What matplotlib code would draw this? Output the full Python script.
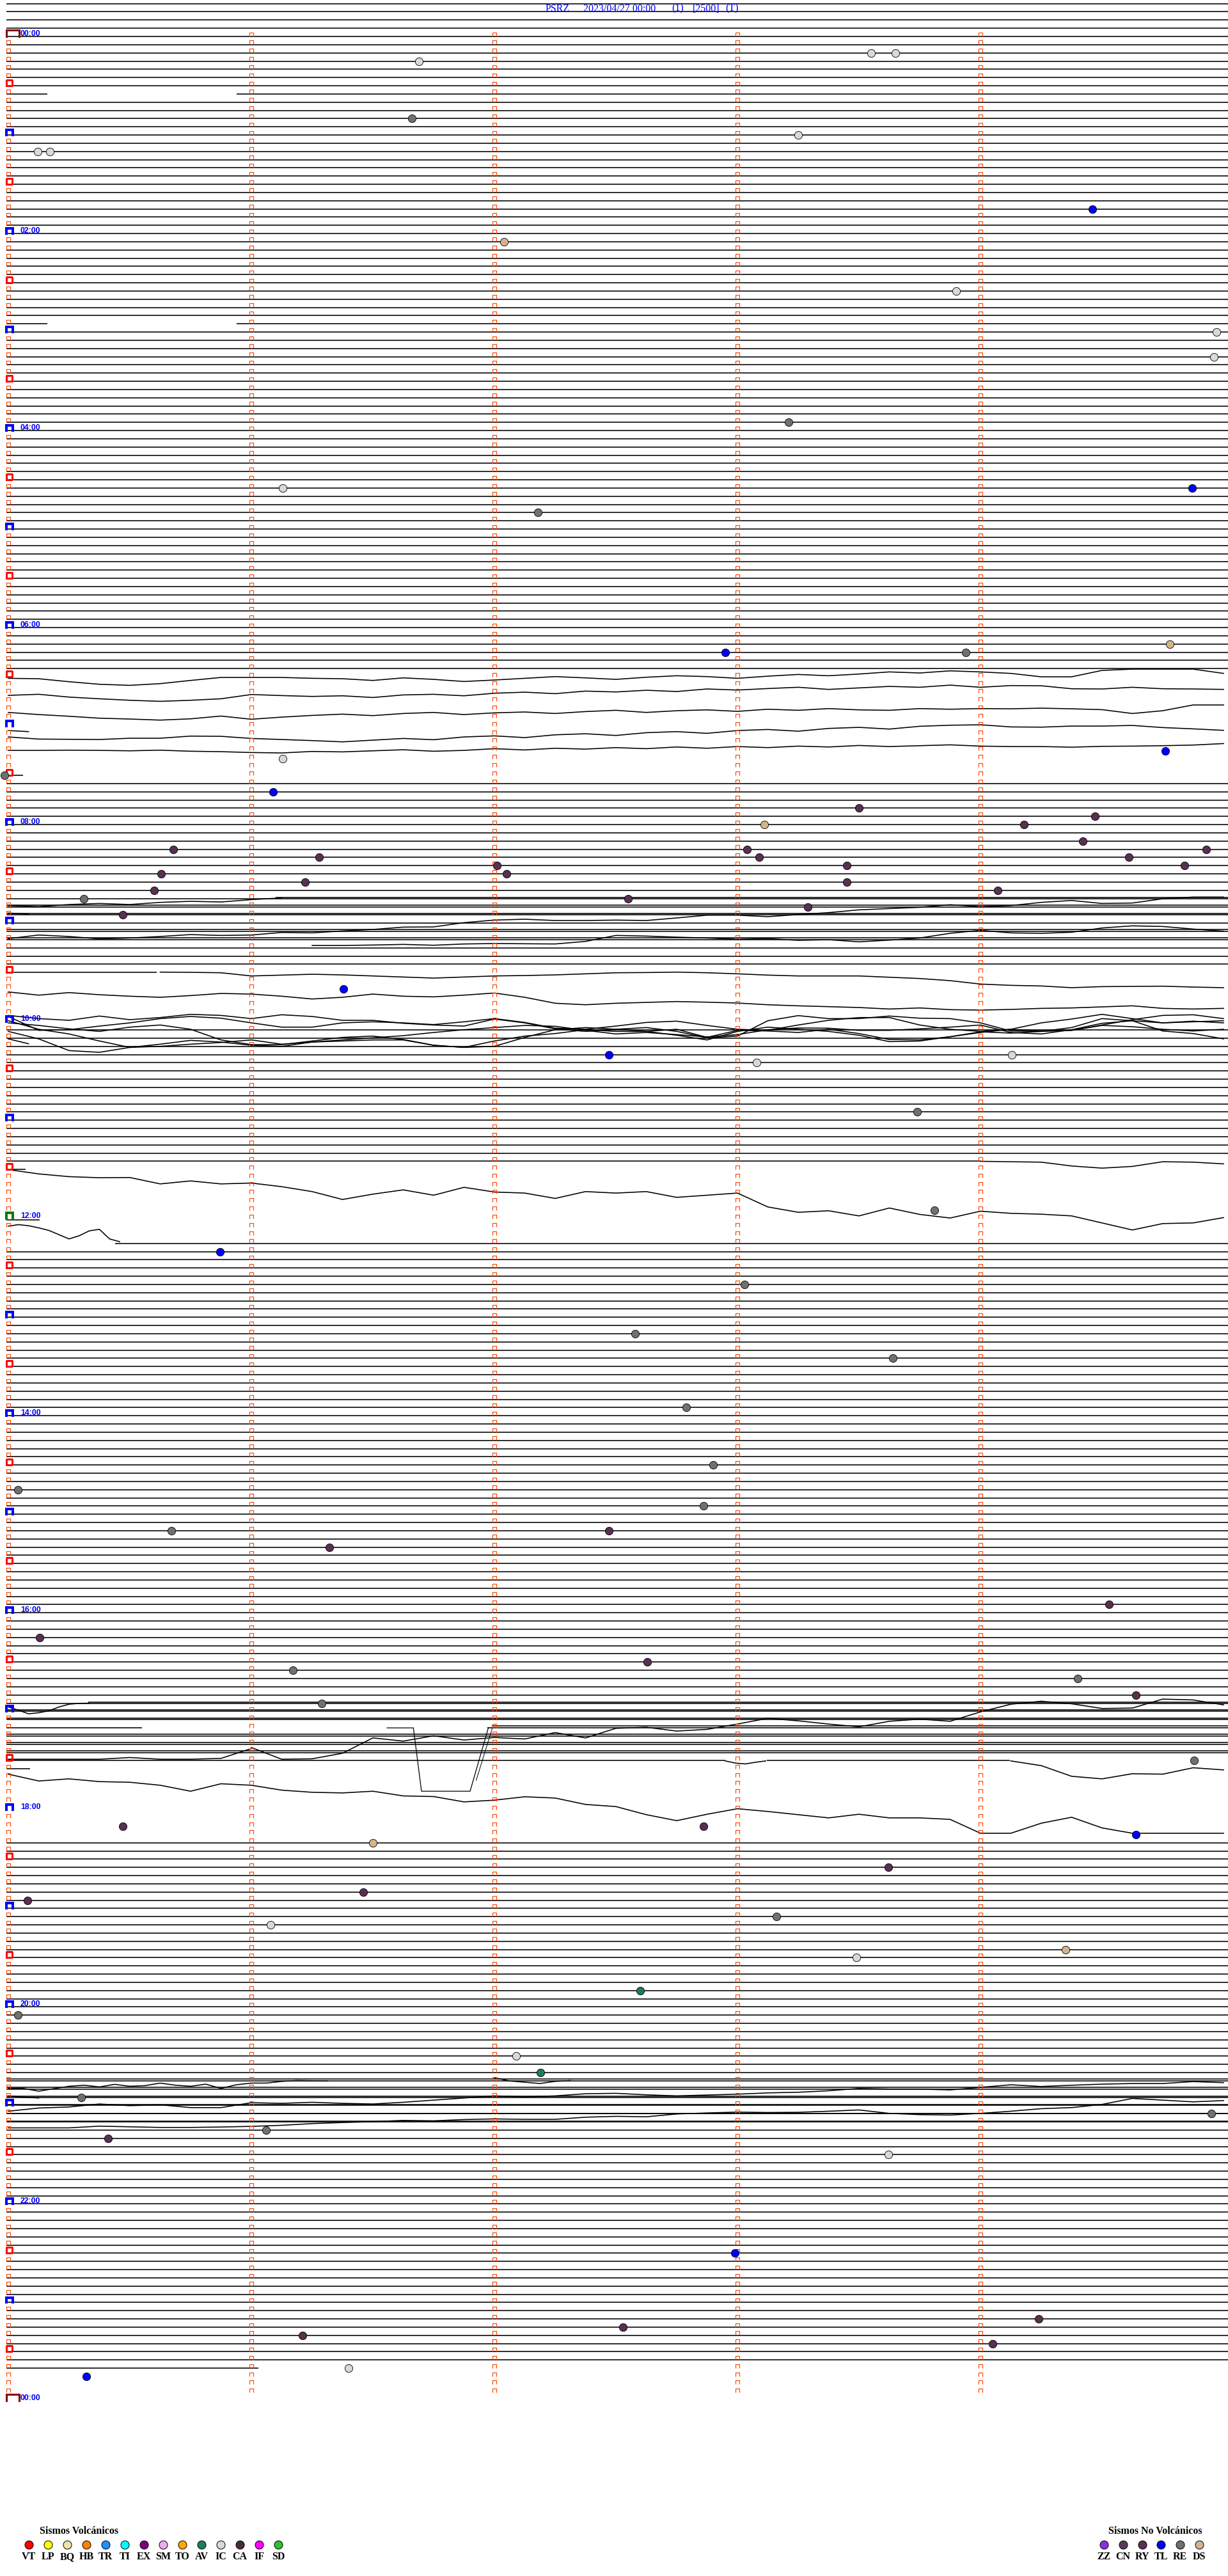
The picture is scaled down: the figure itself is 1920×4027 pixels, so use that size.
import numpy as np
import matplotlib
matplotlib.use('Agg')
import matplotlib.pyplot as plt
from matplotlib.path import Path
from matplotlib.collections import LineCollection

# ── helicorder geometry: 5 minutes per row, 288 rows per day ────────────────
W, H = 1920, 4027
X0_PX, PX_PER_MIN = 13.0, 380.0
Y0_PX, PX_PER_ROW = 57.0, 12.835
UNITS_PER_ROW = 38.5          # trace amplitude units per row spacing
N_ROWS = 288
X_START, X_END = -0.008, 5.1
LINE_W = 1.15

title_parts = ['PSRZ', '2023/04/27 00:00', '(1)', '[2500]', '(T)']
title_px = [853, 912, 1050, 1083, 1134]

# ── rows with flat (quiet) traces ────────────────────────────────────────────
first_row, last_row = -4, 284
missing_rows = list(range(78, 90)) + list(range(115, 121)) + list(range(139, 147)) + list(range(212, 220))
partial_rows = [7, 35, 90, 114, 137, 138, 147, 206, 210, 211, 284]
partial_spans = [
    [(-0.008, 0.16), (0.94, 5.1)],
    [(-0.008, 0.16), (0.94, 5.1)],
    [(-0.008, 0.06)],
    [(-0.008, 0.61)],
    [(-0.008, 4.0)],
    [(-0.008, 0.07)],
    [(0.44, 5.1)],
    [(-0.008, 0.55), (1.97, 5.1)],
    [(-0.008, 2.95), (3.12, 4.12)],
    [(-0.008, 0.09)],
    [(-0.008, 1.03)],
]
# extra flat pieces slightly off a row (offset baselines)
extra_y = [104.9, 105.8, 106.8, 108.8, 109.8, 144.1, 202.85, 203.8, 204.8, 205.8, 206.8, 207.8,
           208.8, 248.8, 249.8, 250.85, 251.88, 252.95, 253.95]
extra_x0 = [1.1, -0.008, -0.008, -0.008, -0.008, -0.008, 0.33, -0.008, -0.008, 1.99, -0.008, -0.008,
            -0.008, -0.008, -0.008, -0.008, -0.008, -0.008, -0.008]
extra_x1 = [5.1] * 5 + [0.13] + [5.1] * 13

# ── active traces: samples (amplitude units) ─────────────────────────────────
# 06:30 - 07:30
tr_0630_1 = [180, 182, 196, 208, 213, 205, 190, 176, 176, 176, 180, 182, 190, 178, 185, 195, 188, 180, 172, 178, 185,
             175, 168, 172, 180, 170, 162, 168, 160, 150, 155, 145, 150, 157, 173, 173, 143, 137, 137, 137, 157]
tr_0630_2 = [260, 255, 268, 276, 283, 288, 283, 276, 256, 261, 265, 262, 270, 258, 255, 262, 250, 245, 252, 240, 244,
             236, 242, 230, 235, 228, 222, 232, 225, 218, 222, 212, 222, 214, 215, 229, 230, 222, 229, 230, 232]
tr_0630_3 = [340, 350, 358, 367, 371, 376, 370, 357, 372, 362, 354, 348, 355, 345, 340, 350, 342, 338, 345, 336, 330,
             340, 332, 328, 335, 325, 330, 322, 328, 330, 322, 325, 322, 323, 320, 323, 327, 345, 332, 305, 305]
tr_0630_4 = [455, 465, 466, 467, 461, 461, 451, 452, 462, 467, 472, 478, 470, 462, 468, 455, 450, 458, 445, 440, 448,
             435, 430, 438, 425, 420, 428, 415, 410, 418, 405, 400, 398, 408, 409, 404, 404, 401, 411, 417, 424]
tr_0630_5 = [518, 518, 517, 518, 520, 517, 522, 524, 528, 530, 523, 525, 520, 515, 522, 518, 510, 516, 508, 512, 505,
             510, 502, 508, 500, 505, 498, 502, 495, 500, 496, 492, 498, 500, 500, 503, 499, 498, 496, 493, 486]
tr_0630_s = [425, 430]
# 08:35 - 10:05
tr_0835_a = [110, 115, 105, 100, 105, 95, 90, 93, 82, 74]
tr_0835_c = [265, 248, 255, 266, 262, 255, 246, 250, 248, 236, 238, 229, 222, 211, 210, 190, 178, 174, 180, 180, 178,
             180, 168, 155, 155, 162, 152, 143, 130, 124, 118, 106, 115, 110, 95, 86, 100, 98, 78, 70, 70]
tr_0835_d = [145, 150]
tr_0850_h = [297, 297, 295, 292, 296, 290, 288, 289, 290, 278, 250, 253, 258, 262, 268, 265, 273, 270, 280, 272, 262,
             240, 226, 238, 240, 235, 215, 205, 208, 220, 230]
tr_0930_j = [422, 423, 425, 440, 436, 432, 435, 440, 445, 450, 445, 440, 438, 435, 430, 425, 424, 422, 425, 430, 436,
             440, 440, 440, 446, 452, 462, 478, 484, 487, 495, 490, 489, 488, 492, 495]
tr_0940_k = [515, 530, 518, 528, 535, 540, 532, 522, 525, 535, 548, 540, 525, 535, 538, 530, 520, 540, 568, 575, 568,
             564, 560, 563, 567, 575, 580, 584, 588, 595, 590, 598, 600, 597, 592, 590, 585, 580, 592, 595, 592]
tr_1000_b1 = [625, 640, 648, 628, 645, 635, 620, 625, 640, 622, 630, 648, 648, 662, 670, 675, 642, 660, 688, 700, 690,
              682, 700, 730, 722, 650, 626, 640, 640, 628, 638, 640, 660, 698, 700, 695, 670, 645, 625, 622, 640]
tr_1000_b2 = [650, 690, 712, 745, 775, 770, 760, 752, 740, 760, 750, 745, 740, 740, 765, 775, 745, 722, 710, 692, 700,
              700, 690, 728, 695, 698, 705, 690, 710, 738, 740, 725, 705, 690, 698, 695, 672, 678, 690, 698, 690]
tr_1000_b3 = [700, 735, 790, 798, 775, 760, 742, 750, 765, 770, 750, 740, 730, 720, 705, 692, 682, 672, 676, 695, 712,
              705, 715, 726, 715, 692, 684, 685, 695, 695, 688, 680, 670, 705, 712, 692, 662, 650, 660, 652, 660]
tr_1000_b4 = [660, 672, 688, 700, 680, 670, 690, 740, 762, 762, 745, 728, 722, 738, 765, 775, 770, 728, 692, 682, 690,
              700, 718, 740, 700, 680, 690, 700, 718, 748, 745, 725, 702, 708, 700, 682, 640, 650, 698, 710, 735]
tr_1000_b5 = [630, 695, 692, 675, 660, 640, 630, 638, 660, 680, 680, 660, 655, 660, 668, 655, 640, 658, 685, 690, 675,
              658, 652, 672, 690, 695, 670, 648, 635, 635, 670, 690, 700, 690, 660, 642, 620, 640, 660, 655, 650]
tr_1000_b6 = [735, 758]
# 11:25 - 12:15
tr_1125_c1 = [106, 108, 110, 128, 138, 130, 108, 110, 118]
tr_1130_c2 = [145, 165, 178, 183, 182, 212, 198, 212, 208, 225, 248, 285, 260, 240, 265, 228, 250, 255, 280, 248, 255,
              248, 275, 265, 255, 320, 345, 338, 362, 325, 355, 372, 340, 350, 354, 362, 395, 428, 398, 395, 370]
tr_1200_c3 = [410, 403, 408, 418, 430, 450, 470, 455, 432, 425, 470, 483]
# 16:55 - 18:15
tr_1655_d0 = [145, 160, 177, 172, 163, 145, 132, 128, 127]
tr_1725_r1 = [390, 390, 390, 390, 382, 390, 390, 386, 340]
tr_1725_r2 = [335, 390, 388, 362, 290, 305, 280, 300, 288, 295, 265, 290, 245, 240, 258, 250, 225, 198, 210, 225, 238,
              212, 202, 212, 168, 132, 118, 130, 152, 150, 108, 112, 135]
tr_1730_w = [398, 408, 412, 404, 398]
tr_1730_e = [398, 420, 470, 482, 458, 460, 430, 440]
tr_1735_d2 = [460, 492, 482, 495, 498, 512, 540, 505, 512, 535, 545, 548, 540, 562, 565, 590, 582, 566, 572, 602, 612,
              650, 678, 648, 622, 635, 650, 665, 648, 665, 665, 672, 737, 737, 690, 662, 712, 737, 737, 737, 737]
glitch_sec = [93.5, 100, 102, 114, 118.5]
glitch_val = [243, 243, 540, 540, 243]
glitch2_sec = [115.5, 119.5]
glitch2_val = [489, 243]
# 20:25 - 21:15
tr_2025_e1 = [255, 255, 268, 256, 245, 240, 248, 236, 245, 242, 230, 240, 245, 235, 255, 238, 230, 230, 222, 218, 219, 220]
tr_2025_e2 = [205, 220, 226, 232, 222, 218]
tr_2030_e3 = [362, 347, 342, 328, 336, 332, 345, 345, 322, 325, 320, 325, 328, 320, 310, 300, 290, 295, 290, 280, 278,
              285, 290, 286, 282, 276, 273, 266, 255, 258, 258, 262, 250, 238, 246, 240, 235, 232, 232, 223, 228]
tr_2030_e4 = [290, 296, 300]
tr_2035_e5 = [440, 440, 440, 432, 435, 438, 438, 436, 433, 428, 420, 415, 411, 405, 407, 401, 398, 400, 400, 390, 386,
              388, 375, 370, 366, 368, 367, 362, 356, 372, 378, 380, 372, 362, 350, 345, 330, 302, 310, 318, 312]

# (reference row, start second, sample interval s, samples)
traces = [
    (73.5, 0, 7.5, tr_0630_1), (73.5, 0, 7.5, tr_0630_2), (73.5, 0, 7.5, tr_0630_3),
    (73.5, 0, 7.5, tr_0630_4), (73.5, 0, 7.5, tr_0630_5), (73.5, 0, 5, tr_0630_s),
    (103.0, 0, 7.5, tr_0835_a), (103.0, 0, 7.5, tr_0835_c), (103.0, 0, 5, tr_0835_d),
    (103.0, 75, 7.5, tr_0850_h), (103.0, 37.5, 7.5, tr_0930_j), (103.0, 0, 7.5, tr_0940_k),
    (103.0, 0, 7.5, tr_1000_b1), (103.0, 0, 7.5, tr_1000_b2), (103.0, 0, 7.5, tr_1000_b3),
    (103.0, 0, 7.5, tr_1000_b4), (103.0, 0, 7.5, tr_1000_b5), (103.0, 0, 5, tr_1000_b6),
    (134.25, 240, 7.5, tr_1125_c1), (134.25, 0, 7.5, tr_1130_c2), (134.25, 0, 2.5, tr_1200_c3),
    (199.7, 0, 2.5, tr_1655_d0), (199.7, 0, 7.5, tr_1725_r1), (199.7, 60, 7.5, tr_1725_r2),
    (199.7, 177, 2.5, tr_1730_w), (199.7, 247.5, 7.5, tr_1730_e), (199.7, 0, 7.5, tr_1735_d2),
    (243.3, 0, 3.75, tr_2025_e1), (243.3, 120, 3.75, tr_2025_e2), (243.3, 0, 7.5, tr_2030_e3),
    (243.3, 0, 3.75, tr_2030_e4), (243.3, 0, 7.5, tr_2035_e5),
]

# ── classified events: row, minute within row, type ──────────────────────────
ev_row = [3, 2, 2, 10, 14, 14, 12, 21, 25, 31, 36, 39, 47, 55, 55, 58, 75, 75, 74, 88,
          87, 90, 92, 94, 96, 96, 95, 99, 100, 99, 100, 98, 100, 99, 101, 102, 101, 101, 102, 103,
          103, 104, 104, 105, 105, 106, 107, 116, 124, 125, 124, 131, 143, 148, 152, 158, 161, 167, 174, 177,
          179, 182, 182, 184, 191, 195, 198, 199, 200, 202, 203, 210, 218, 218, 219, 220, 223, 226, 227, 229,
          230, 233, 234, 238, 241, 246, 248, 251, 253, 255, 256, 258, 270, 278, 280, 279, 281, 284, 285]
ev_min = [1.69, 3.55, 3.65, 1.66, 0.12, 0.17, 3.25, 4.46, 2.04, 3.90, 4.97, 4.96, 3.21, 1.13, 4.87, 2.18, 2.95, 3.94, 4.78, 1.13,
          4.76, -0.015, 1.09, 3.50, 3.11, 4.18, 4.47, 0.68, 1.28, 3.04, 3.09, 4.42, 4.61, 4.93, 2.01, 2.05, 3.45, 4.84, 0.63, 1.22,
          3.45, 0.60, 4.07, 0.31, 2.55, 3.29, 0.47, 1.38, 2.47, 3.08, 4.13, 3.74, 3.81, 0.87, 3.03, 2.58, 3.64, 2.79, 2.90, 0.04,
          2.86, 0.67, 2.47, 1.32, 4.53, 0.13, 2.63, 1.17, 4.40, 4.64, 1.29, 4.88, 0.47, 2.86, 4.64, 1.50, 3.62, 1.46, 0.08, 3.16,
          1.08, 4.35, 3.49, 2.60, 0.04, 2.09, 2.19, 0.30, 4.95, 1.06, 0.41, 3.62, 2.99, 4.24, 1.21, 2.53, 4.05, 1.40, 0.32]
ev_type = ['IC', 'IC', 'IC', 'RE', 'IC', 'IC', 'IC', 'TL', 'DS', 'IC', 'IC', 'IC', 'RE', 'IC', 'TL', 'RE', 'TL', 'RE', 'DS', 'IC',
           'TL', 'RE', 'TL', 'RY', 'DS', 'RY', 'RY', 'RY', 'RY', 'RY', 'RY', 'RY', 'RY', 'RY', 'RY', 'RY', 'RY', 'RY', 'RY', 'RY',
           'RY', 'RY', 'RY', 'RE', 'RY', 'RY', 'RY', 'TL', 'TL', 'IC', 'IC', 'RE', 'RE', 'TL', 'RE', 'RE', 'RE', 'RE', 'RE', 'RE',
           'RE', 'RE', 'RY', 'RY', 'RY', 'RY', 'RY', 'RE', 'RE', 'RY', 'RE', 'RE', 'RY', 'RY', 'TL', 'DS', 'RY', 'RY', 'RY', 'RE',
           'IC', 'DS', 'IC', 'AV', 'RE', 'IC', 'AV', 'RE', 'RE', 'RE', 'RY', 'IC', 'TL', 'RY', 'RY', 'RY', 'RY', 'IC', 'TL']

vol_codes = ['VT', 'LP', 'BQ', 'HB', 'TR', 'TI', 'EX', 'SM', 'TO', 'AV', 'IC', 'CA', 'IF', 'SD']
nonvol_codes = ['ZZ', 'CN', 'RY', 'TL', 'RE', 'DS']
type_color = {
    'VT': '#ff0000', 'LP': '#ffff00', 'BQ': '#f0e2a8', 'HB': '#ff8000', 'TR': '#1e90ff', 'TI': '#00ffff',
    'EX': '#800080', 'SM': '#eeaaee', 'TO': '#ffa500', 'AV': '#1e7c5c', 'IC': '#d8d8d8', 'CA': '#4a2a42',
    'IF': '#ff00ff', 'SD': '#30c030', 'ZZ': '#8a30d8', 'CN': '#5a3a5a', 'RY': '#583050', 'TL': '#0000ff',
    'RE': '#6e716e', 'DS': '#d2b48c',
}

# ── figure ───────────────────────────────────────────────────────────────────
fig = plt.figure(figsize=(W / 100, H / 100), dpi=100)
fig.patch.set_facecolor('white')
ax = fig.add_axes([0, 0, 1, 1])
ax.set_xlim(-X0_PX / PX_PER_MIN, (W - X0_PX) / PX_PER_MIN)
ax.set_ylim((H - Y0_PX) / PX_PER_ROW, -Y0_PX / PX_PER_ROW)
ax.axis('off')

segs = []
for r in range(first_row, last_row + 1):
    if r in missing_rows or r in partial_rows:
        continue
    segs.append([(X_START, r), (X_END, r)])
for r, spans in zip(partial_rows, partial_spans):
    for x0, x1 in spans:
        segs.append([(x0, r), (x1, r)])
for y, x0, x1 in zip(extra_y, extra_x0, extra_x1):
    segs.append([(x0, y), (x1, y)])
ax.add_collection(LineCollection(segs, colors='k', linewidths=LINE_W, capstyle='butt', zorder=2))

for base, t0, dt, vals in traces:
    t = t0 + dt * np.arange(len(vals))
    ax.plot(t / 60, base + np.asarray(vals) / UNITS_PER_ROW, color='k', lw=LINE_W, zorder=2)
ax.plot(np.array(glitch_sec) / 60, 199.7 + np.array(glitch_val) / UNITS_PER_ROW, color='k', lw=0.9, zorder=2)
ax.plot(np.array(glitch2_sec) / 60, 199.7 + np.array(glitch2_val) / UNITS_PER_ROW, color='k', lw=0.7, zorder=2)

# minute ticks (small orange brackets)
tick_path = Path([(-1, 0), (-1, 2), (1, 2), (1, 0)],
                 [Path.MOVETO, Path.LINETO, Path.LINETO, Path.LINETO])
tx, ty = [], []
for r in range(N_ROWS):
    for m in range(5):
        if m == 0 and r % 6 == 0:
            continue
        tx.append(m)
        ty.append(r - 0.03)
ax.plot(tx, ty, ls='none', marker=tick_path, ms=8.6, mfc='none', mec='#ff4500', mew=0.85,
        antialiased=False, zorder=3)

# hour / half-hour markers
def bracket(r, x1, h, color, lw):
    ax.plot([X_START, X_START, x1, x1], [r, r - h, r - h, r], color=color, lw=lw,
            solid_joinstyle='miter', antialiased=False, zorder=4)

for r in range(0, N_ROWS + 1, 6):
    if r % N_ROWS == 0:
        bracket(r, 0.045, 0.78, '#800000', 1.8)
    elif r == 144:
        bracket(r, 0.019, 0.7, '#008000', 1.5)
    elif r % 12 == 0:
        bracket(r, 0.019, 0.62, '#0000ff', 1.5)
    else:
        ax.plot([X_START, X_START, 0.016, 0.016, X_START], [r, r - 0.7, r - 0.7, r, r],
                color='#ff0000', lw=0.9, antialiased=False, zorder=4)
    if r % 24 == 0:
        ax.text(0.05, r - 0.08, f'{(r // 12) % 24:02d}:00', color='#0000ff', fontsize=8.8,
                fontweight='bold', family='Liberation Sans', ha='left', va='baseline', zorder=4)

# events
for code in type_color:
    idx = [i for i, t in enumerate(ev_type) if t == code]
    if not idx:
        continue
    ax.plot([ev_min[i] for i in idx], [ev_row[i] for i in idx], ls='none', marker='o', ms=8.8,
            mfc=type_color[code], mec='k', mew=0.6, zorder=5)

# ── title and legend (layout overlay in pixels) ──────────────────────────────
lay = fig.add_axes([0, 0, 1, 1])
lay.set_xlim(0, W)
lay.set_ylim(H, 0)
lay.axis('off')

for txt, px in zip(title_parts, title_px):
    lay.text(px, 13.5, txt, color='#0000ff', fontsize=11.5, family='Liberation Serif',
             ha='left', va='center')

def legend_group(codes, x_first, step, title, title_x):
    lay.text(title_x, 3957, title, fontsize=11.5, fontweight='bold', family='Liberation Serif',
             ha='center', va='center')
    for i, code in enumerate(codes):
        x = x_first + step * i
        lay.plot([x], [3978], ls='none', marker='o', ms=9.4, mfc=type_color[code], mec='k', mew=0.7)
        lay.text(x, 3997, code, fontsize=11.5, fontweight='bold', family='Liberation Serif',
                 ha='center', va='center')

legend_group(vol_codes, 45, 30, 'Sismos Volcánicos', 124)
legend_group(nonvol_codes, 1726, 29.8, 'Sismos No Volcánicos', 1806)

fig.savefig('out.png', dpi=100, facecolor='white')
